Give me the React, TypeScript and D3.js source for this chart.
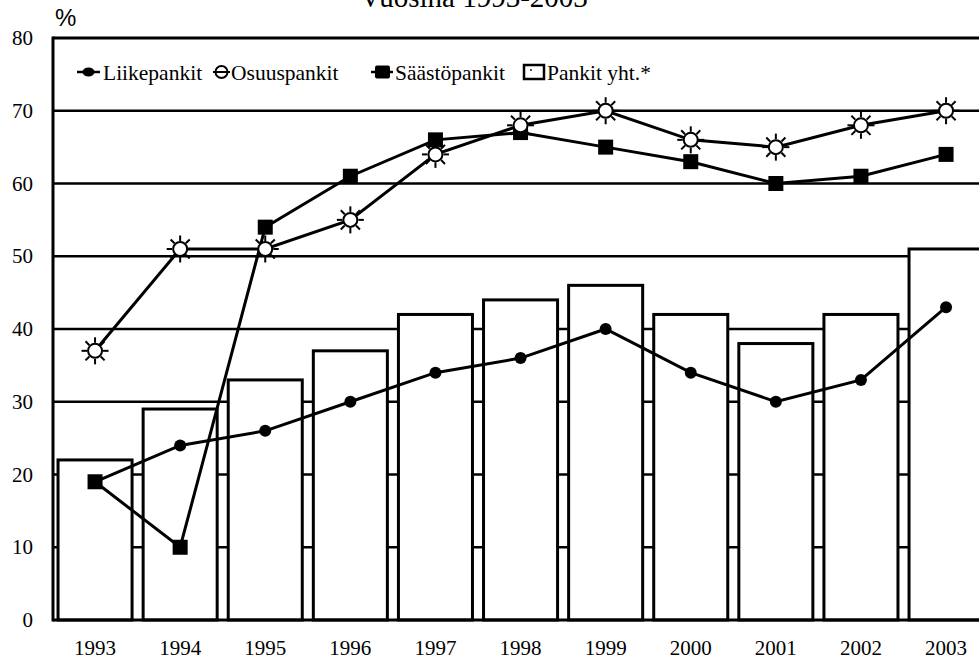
import React from "react";
import * as d3 from "d3";

const years = ["1993","1994","1995","1996","1997","1998","1999","2000","2001","2002","2003"];
const pankitYht = [22, 29, 33, 37, 42, 44, 46, 42, 38, 42, 51];
const liikepankit = [19, 24, 26, 30, 34, 36, 40, 34, 30, 33, 43];
const osuuspankit = [37, 51, 51, 55, 64, 68, 70, 66, 65, 68, 70];
const saastopankit = [19, 10, 54, 61, 66, 67, 65, 63, 60, 61, 64];
const yTicks = [0, 10, 20, 30, 40, 50, 60, 70, 80];
const legendLabels = ["Liikepankit", "Osuuspankit", "Säästöpankit", "Pankit yht.*"];
const title = "Vuosina 1993-2003";

const W = 979, H = 660;
const left = 53, right = 979, top = 38, bottom = 620;
const SERIF = { fontFamily: "Liberation Serif, Times New Roman, Times, serif" };
const SANS = { fontFamily: "Liberation Sans, Arial, sans-serif" };

export default function App() {
  const x = d3.scaleBand<string>().domain(years).range([52.5, 52.5 + 11 * 85.1]).paddingInner(0.13).paddingOuter(0.065);
  const y = d3.scaleLinear().domain([0, 80]).range([bottom, top]);
  const cx = (i: number) => (x(years[i]) as number) + x.bandwidth() / 2;
  const line = d3.line<number>().x((_, i) => cx(i)).y((v) => y(v));

  const sun = (px: number, py: number, r: number, r1: number, r2: number, sw: number, key?: any) => (
    <g key={key} transform={`translate(${px},${py})`}>
      {d3.range(8).map((k) => {
        const a = (k * Math.PI) / 4;
        return <line key={k} x1={Math.cos(a) * r1} y1={Math.sin(a) * r1} x2={Math.cos(a) * r2} y2={Math.sin(a) * r2} stroke="#000" strokeWidth={sw} />;
      })}
      <circle r={r} fill="#fff" stroke="#000" strokeWidth={sw} />
    </g>
  );

  const ly = 72;
  return (
    <svg width={W} height={H} style={{ position: "absolute", left: 0, top: 0, display: "block", background: "#fff" }}>
      <rect width={W} height={H} fill="#fff" />
      <text x={360} y={7} style={SERIF} fontSize={29}>{title}</text>
      <text x={55} y={26} style={SANS} fontSize={24}>%</text>
      {yTicks.filter((t) => t > 0).map((t) => (
        <line key={t} x1={left} x2={right} y1={y(t)} y2={y(t)} stroke="#000" strokeWidth={t === 80 ? 3 : 2.5} />
      ))}
      {yTicks.map((t) => (
        <text key={t} x={33} y={y(t) + 7} textAnchor="end" style={SERIF} fontSize={21}>{t}</text>
      ))}
      {pankitYht.map((v, i) => (
        <rect key={i} x={x(years[i])} y={y(v)} width={x.bandwidth()} height={bottom - y(v)} fill="#fff" stroke="#000" strokeWidth={3} />
      ))}
      <line x1={left} x2={left} y1={top - 1.5} y2={bottom + 1.5} stroke="#000" strokeWidth={3} />
      <line x1={left} x2={right} y1={bottom} y2={bottom} stroke="#000" strokeWidth={3} />
      {years.map((yr, i) => (
        <text key={yr} x={cx(i)} y={655} textAnchor="middle" style={SERIF} fontSize={21}>{yr}</text>
      ))}
      <path d={line(liikepankit) as string} fill="none" stroke="#000" strokeWidth={3} />
      <path d={line(saastopankit) as string} fill="none" stroke="#000" strokeWidth={3} />
      <path d={line(osuuspankit) as string} fill="none" stroke="#000" strokeWidth={3} />
      {liikepankit.map((v, i) => <circle key={i} cx={cx(i)} cy={y(v)} r={6} fill="#000" />)}
      {saastopankit.map((v, i) => <rect key={i} x={cx(i) - 7.5} y={y(v) - 7.5} width={15} height={15} fill="#000" />)}
      {osuuspankit.map((v, i) => sun(cx(i), y(v), 7, 8, 13.5, 2, i))}
      <g style={SERIF} fontSize={21.5}>
        <line x1={77} x2={100} y1={ly} y2={ly} stroke="#000" strokeWidth={2.5} />
        <ellipse cx={88.5} cy={ly} rx={6} ry={4.5} fill="#000" />
        <text x={103} y={ly + 8}>{legendLabels[0]}</text>
        <circle cx={221.5} cy={ly} r={6} fill="#fff" stroke="#000" strokeWidth={2} />
        <line x1={213} x2={230} y1={ly} y2={ly} stroke="#000" strokeWidth={2} />
        <text x={231} y={ly + 8}>{legendLabels[1]}</text>
        <line x1={371} x2={393} y1={ly} y2={ly} stroke="#000" strokeWidth={2.5} />
        <rect x={375} y={ly - 6.5} width={15} height={13} rx={2} fill="#000" />
        <text x={395} y={ly + 8}>{legendLabels[2]}</text>
        <rect x={524} y={ly - 7} width={20} height={14} fill="#fff" stroke="#000" strokeWidth={2.5} />
        <circle cx={531} cy={ly - 2} r={0.9} fill="#000" />
        <text x={547} y={ly + 8}>{legendLabels[3]}</text>
      </g>
    </svg>
  );
}
